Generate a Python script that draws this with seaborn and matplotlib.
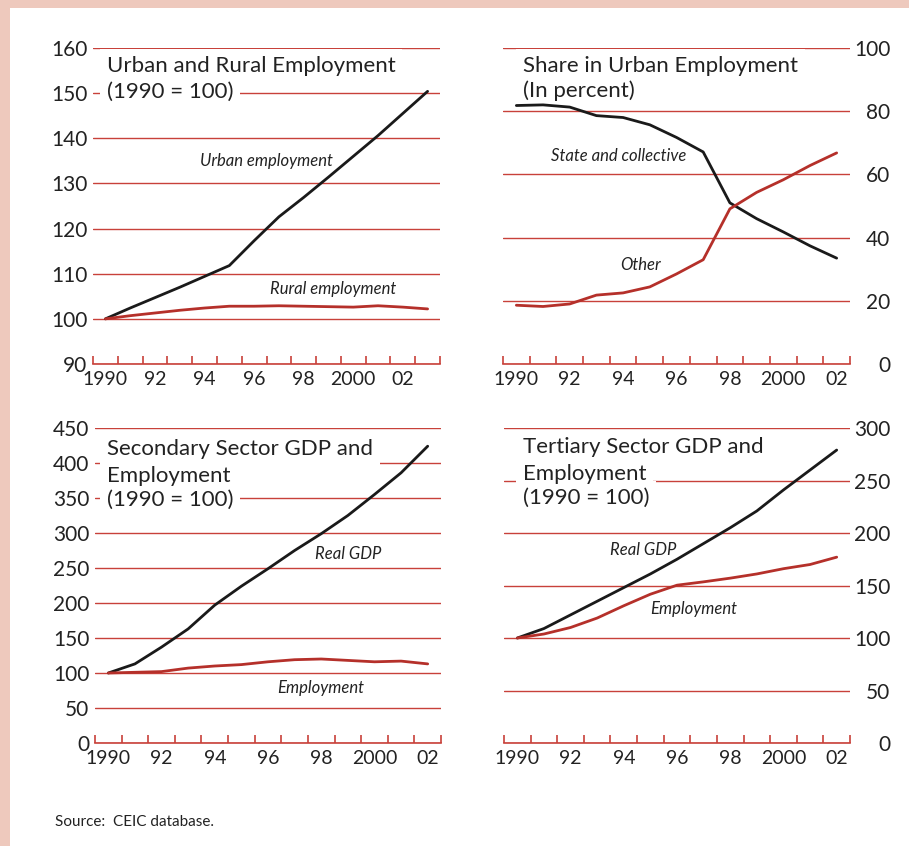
import matplotlib
matplotlib.use('Agg')
import matplotlib.pyplot as plt
import seaborn as sns
import pandas as pd
import numpy as np
from matplotlib.patches import Rectangle

# ---------------- data ----------------
years_urban = list(range(1990, 2004))
urban_emp = [100, 102.4, 104.7, 107.0, 109.4, 111.8, 117.3, 122.6, 126.9, 131.4, 136.0, 140.6, 145.5, 150.4]
rural_emp = [100, 100.7, 101.3, 101.9, 102.4, 102.8, 102.8, 102.9, 102.8, 102.7, 102.6, 102.9, 102.6, 102.2]

years = list(range(1990, 2003))
state_share = [81.8, 82.0, 81.3, 78.6, 78.0, 75.7, 71.7, 67.1, 51.0, 46.0, 41.8, 37.4, 33.5]
other_share = [18.6, 18.2, 19.0, 21.8, 22.5, 24.4, 28.5, 33.0, 49.1, 54.3, 58.3, 62.8, 66.8]

sec_gdp = [100, 113, 137, 163, 197, 224, 249, 275, 299, 325, 355, 386, 424]
sec_emp = [100, 101, 102, 107, 110, 112, 116, 119, 120, 118, 116, 117, 113]

ter_gdp = [100, 109, 122, 135, 148, 161, 175, 190, 205, 221, 241, 260, 279]
ter_emp = [100, 103.8, 110, 119, 130.7, 141.7, 150.3, 153.5, 157, 161, 166, 170, 177]

label_years = [1990, 1992, 1994, 1996, 1998, 2000, 2002]
x_labels = ['1990', '92', '94', '96', '98', '2000', '02']

# ---------------- style ----------------
sns.set_style('white')
plt.rcParams['font.family'] = ['Lato', 'DejaVu Sans']

W, H = 909, 846
fig = plt.figure(figsize=(W / 100, H / 100), dpi=100)


def fx(x):
    return x / W


def fy(y):
    return 1 - y / H


GRID = '#C8413A'
RED = '#B5302A'
BLACK = '#1A1A1A'
PINK = '#EEC9BD'
TXT = '#222222'

fig.patches.append(Rectangle((0, fy(8)), 1, 8 / H, transform=fig.transFigure,
                             facecolor=PINK, edgecolor='none', zorder=0))
fig.patches.append(Rectangle((0, 0), 10 / W, 1, transform=fig.transFigure,
                             facecolor=PINK, edgecolor='none', zorder=0))


def make_ax(x0, y0, x1, y1):
    return fig.add_axes([fx(x0), fy(y1), (x1 - x0) / W, (y1 - y0) / H])


def setup(ax, yrs, ylim, yticks, side, pad):
    ax.set_xlim(yrs[0] - 0.5, yrs[-1] + 0.5)
    ax.set_ylim(*ylim)
    bounds = np.arange(yrs[0] - 0.5, yrs[-1] + 0.51, 1.0)
    ax.set_xticks(bounds)
    ax.set_xticklabels([''] * len(bounds))
    ax.set_xticks(label_years, minor=True)
    ax.set_xticklabels(x_labels, minor=True)
    ax.tick_params(axis='x', which='major', direction='in', length=6, width=1.2,
                   color=GRID, bottom=True)
    ax.tick_params(axis='x', which='minor', length=0, pad=5, labelsize=14,
                   labelcolor=TXT, bottom=True)
    ax.set_yticks(yticks)
    ax.set_yticklabels([str(v) for v in yticks])
    ax.yaxis.grid(True, color=GRID, lw=1.0)
    ax.xaxis.grid(False)
    ax.set_axisbelow(True)
    for s in ['top', 'left', 'right']:
        ax.spines[s].set_visible(False)
    ax.spines['bottom'].set_color(GRID)
    ax.spines['bottom'].set_linewidth(1.2)
    ax.set_xlabel('')
    ax.set_ylabel('')
    if side == 'right':
        ax.yaxis.tick_right()
        ax.tick_params(axis='y', length=0, pad=pad, labelsize=15, labelcolor=TXT,
                       left=False, right=False, labelleft=False, labelright=True)
        plt.setp(ax.get_yticklabels(), ha='right')
    else:
        ax.tick_params(axis='y', length=0, pad=pad, labelsize=15, labelcolor=TXT,
                       left=False, right=False)
    ax.patch.set_alpha(0)


def title_lines(ax, x, ys, lines):
    # white boxes first (hide the grid lines), then the text on top
    for y, s in zip(ys, lines):
        ax.text(fx(x), fy(y), s, transform=fig.transFigure, fontsize=16,
                color=(0, 0, 0, 0), ha='left', va='center', zorder=2.4, clip_on=False,
                bbox=dict(boxstyle='square,pad=0.3', fc='white', ec='none'))
    for y, s in zip(ys, lines):
        ax.text(fx(x), fy(y), s, transform=fig.transFigure, fontsize=16, color=TXT,
                ha='left', va='center', zorder=2.6, clip_on=False)


def series(ax, xs, a, b, name_a, name_b):
    df = pd.DataFrame({'year': list(xs) * 2, 'value': list(a) + list(b),
                       'series': [name_a] * len(xs) + [name_b] * len(xs)})
    sns.lineplot(data=df, x='year', y='value', hue='series',
                 palette={name_a: BLACK, name_b: RED}, lw=2.0, legend=False,
                 ax=ax, zorder=3)


# ---- top left ----
ax1 = make_ax(93, 48, 440, 364)
series(ax1, years_urban, urban_emp, rural_emp, 'Urban', 'Rural')
setup(ax1, years_urban, (90, 160), list(range(90, 161, 10)), 'left', 4)
title_lines(ax1, 107, [66, 92], ['Urban and Rural Employment', '(1990 = 100)'])
ax1.text(1996.5, 135.0, 'Urban employment', style='italic', fontsize=12, color=TXT,
         ha='center', va='center')
ax1.text(1999.2, 106.7, 'Rural employment', style='italic', fontsize=12, color=TXT,
         ha='center', va='center')

# ---- top right ----
ax2 = make_ax(503, 48, 850, 364)
series(ax2, years, state_share, other_share, 'State', 'Other')
setup(ax2, years, (0, 100), list(range(0, 101, 20)), 'right', 29)
title_lines(ax2, 523, [66, 91], ['Share in Urban Employment', '(In percent)'])
ax2.text(1993.85, 65.9, 'State and collective', style='italic', fontsize=12, color=TXT,
         ha='center', va='center')
ax2.text(1994.66, 31.4, 'Other', style='italic', fontsize=12, color=TXT,
         ha='center', va='center')

# ---- bottom left ----
ax3 = make_ax(95, 428, 441, 743)
series(ax3, years, sec_gdp, sec_emp, 'GDP', 'Emp')
setup(ax3, years, (0, 450), list(range(0, 451, 50)), 'left', 4)
title_lines(ax3, 107, [449, 476, 500], ['Secondary Sector GDP and', 'Employment', '(1990 = 100)'])
ax3.text(1999.03, 270, 'Real GDP', style='italic', fontsize=12, color=TXT,
         ha='center', va='center')
ax3.text(1997.98, 79, 'Employment', style='italic', fontsize=12, color=TXT,
         ha='center', va='center')

# ---- bottom right ----
ax4 = make_ax(504, 428, 850, 743)
series(ax4, years, ter_gdp, ter_emp, 'GDP', 'Emp')
setup(ax4, years, (0, 300), list(range(0, 301, 50)), 'right', 29)
title_lines(ax4, 523, [447, 474, 498], ['Tertiary Sector GDP and', 'Employment', '(1990 = 100)'])
ax4.text(1994.74, 184, 'Real GDP', style='italic', fontsize=12, color=TXT,
         ha='center', va='center')
ax4.text(1996.62, 128, 'Employment', style='italic', fontsize=12, color=TXT,
         ha='center', va='center')

fig.text(fx(55), fy(822), 'Source:  CEIC database.', fontsize=11, color=TXT,
         ha='left', va='center')

fig.savefig('out.png', dpi=100, facecolor='white')
